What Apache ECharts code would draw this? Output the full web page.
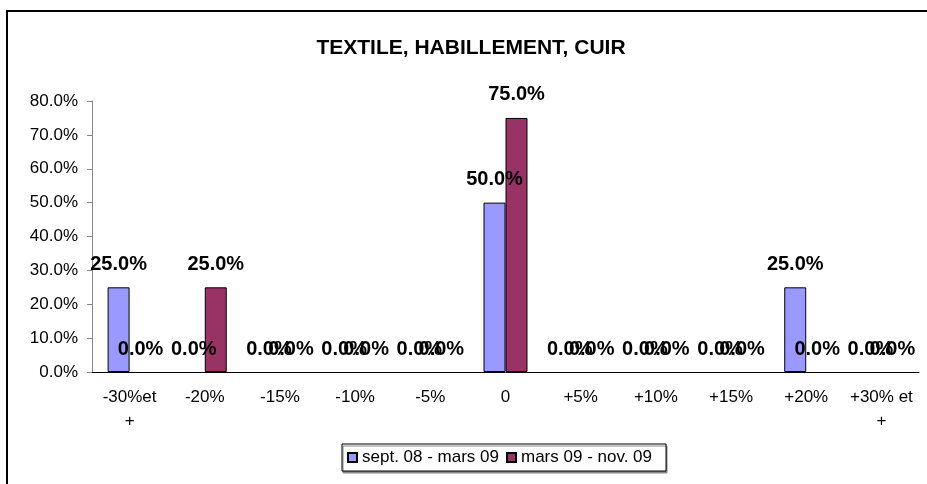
<!DOCTYPE html>
<html>
<head>
<meta charset="utf-8">
<script src="https://cdn.jsdelivr.net/npm/echarts@6/dist/echarts.min.js"></script>
<style>
html, body { margin: 0; padding: 0; background: #fff; }
#chart { width: 927px; height: 484px; }
</style>
</head>
<body>
<div id="chart"></div>
<script>
var categories = ['-30%et\n+', '-20%', '-15%', '-10%', '-5%', '0', '+5%', '+10%', '+15%', '+20%', '+30% et\n+'];
var seriesNames = ['sept. 08 - mars 09', 'mars 09 - nov. 09'];
var sept08 = [25, 0, 0, 0, 0, 50, 0, 0, 0, 25, 0];
var mars09 = [0, 25, 0, 0, 0, 75, 0, 0, 0, 0, 0];

var dom = document.getElementById('chart');
var myChart = echarts.init(dom);

var font = 'Liberation Sans, Arial, sans-serif';

// zero bars: no border, otherwise a flat line shows on the axis
function toBars(arr) {
    return arr.map(function (v) {
        return v === 0 ? { value: v, itemStyle: { borderWidth: 0 } } : v;
    });
}

function barLabel() {
    return {
        show: true,
        position: 'top',
        distance: 13,
        color: '#000',
        fontFamily: font,
        fontWeight: 'bold',
        fontSize: 20,
        formatter: function (p) {
            return p.value.toFixed(1) + '%';
        }
    };
}

var option = {
    backgroundColor: '#fff',
    animation: false,
    title: {
        text: 'TEXTILE, HABILLEMENT, CUIR',
        left: 466,
        textAlign: 'center',
        top: 33,
        textStyle: {
            fontFamily: font,
            fontWeight: 'bold',
            fontSize: 21,
            color: '#000'
        }
    },
    graphic: [{
        type: 'rect',
        shape: { x: 7, y: 11, width: 960, height: 520 },
        style: { fill: 'none', stroke: '#000', lineWidth: 2 },
        silent: true
    }],
    legend: {
        data: seriesNames,
        left: 342,
        top: 444,
        padding: [5, 14, 5, 5],
        itemGap: 7,
        icon: 'rect',
        itemWidth: 9,
        itemHeight: 9,
        borderColor: '#000',
        borderWidth: 1,
        backgroundColor: '#fff',
        shadowColor: '#888',
        shadowOffsetX: 1,
        shadowOffsetY: 2,
        textStyle: {
            fontFamily: font,
            fontSize: 17,
            color: '#000'
        }
    },
    grid: {
        left: 92,
        right: 8,
        top: 101,
        bottom: 112,
        containLabel: false
    },
    xAxis: {
        type: 'category',
        data: categories,
        axisLine: { lineStyle: { color: '#000', width: 1 } },
        axisTick: { length: 5, lineStyle: { color: '#555' } },
        axisLabel: {
            interval: 0,
            color: '#000',
            fontFamily: font,
            fontSize: 17,
            lineHeight: 24,
            margin: 13
        }
    },
    yAxis: {
        type: 'value',
        min: 0,
        max: 80,
        interval: 10,
        axisLine: { show: true, lineStyle: { color: '#888', width: 1 } },
        axisTick: { show: true, length: 5, lineStyle: { color: '#888' } },
        splitLine: { show: false },
        axisLabel: {
            color: '#000',
            fontFamily: font,
            fontSize: 17,
            margin: 14,
            formatter: function (v) { return v.toFixed(1) + '%'; }
        }
    },
    series: [{
        name: seriesNames[0],
        type: 'bar',
        data: toBars(sept08),
        barGap: '0%',
        barCategoryGap: '41.5%',
        itemStyle: { color: '#9999FF', borderColor: '#000', borderWidth: 1 },
        label: barLabel()
    }, {
        name: seriesNames[1],
        type: 'bar',
        data: toBars(mars09),
        itemStyle: { color: '#993366', borderColor: '#000', borderWidth: 1 },
        label: barLabel()
    }]
};

myChart.setOption(option);
</script>
</body>
</html>
